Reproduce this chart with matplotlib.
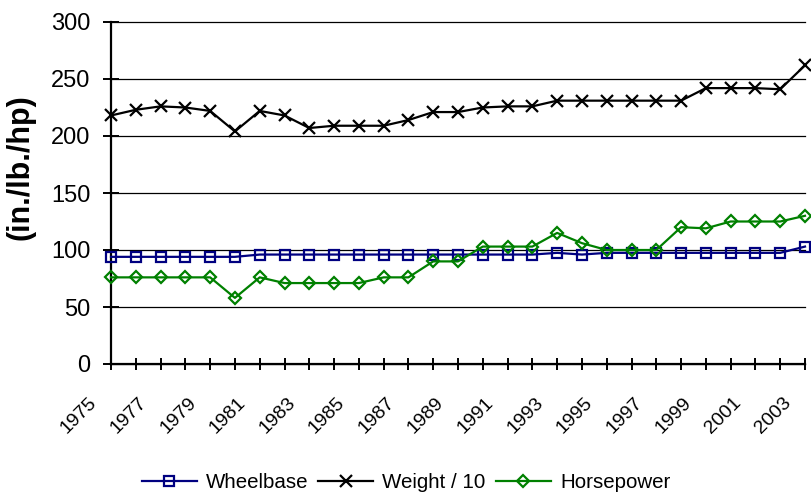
import matplotlib
matplotlib.use("Agg")
import matplotlib.pyplot as plt
import matplotlib.transforms as mtransforms

plt.rcParams['font.family'] = ['Liberation Sans', 'DejaVu Sans']

# data
years = list(range(1975, 2004))
wheelbase = [94, 94, 94, 94, 94, 94,
             96, 96, 96, 96, 96, 96, 96, 96, 96, 96, 96, 96,
             97.5, 96, 97.5, 97.5, 97.5, 97.5, 97.5, 97.5, 97.5, 97.5, 103]
weight = [218, 223, 226, 225, 222, 204, 222, 218, 207, 209, 209, 209, 214, 221, 221,
          225, 226, 226, 231, 231, 231, 231, 231, 231, 242, 242, 242, 241, 262]
horsepower = [76, 76, 76, 76, 76, 58, 76, 71, 71, 71, 71, 76, 76, 90, 90,
              103, 103, 103, 115, 106, 100, 100, 100, 120, 119, 125, 125, 125, 130]
y_ticks = [0, 50, 100, 150, 200, 250, 300]

fig = plt.figure(figsize=(8.12, 4.96), dpi=100)
ax = fig.add_axes([111/812, 1 - 364/496, (805 - 111)/812, (364 - 22)/496])

ax.plot(years, wheelbase, color='#000080', lw=1.6, marker='s', ms=6.5,
        mfc='none', mew=1.6, label='Wheelbase', clip_on=False, zorder=3)
ax.plot(years, weight, color='black', lw=1.6, marker='x', ms=9,
        mew=1.6, label='Weight / 10', clip_on=False, zorder=3)
ax.plot(years, horsepower, color='#008000', lw=1.6, marker='D', ms=6,
        mfc='none', mew=1.6, label='Horsepower', clip_on=False, zorder=4)

ax.set_xlim(years[0], years[-1])
ax.set_ylim(0, 300)
ax.set_yticks(y_ticks)
ax.set_xticks(years)
ax.set_xticklabels([str(y) if (y - 1975) % 2 == 0 else '' for y in years])

ax.spines['top'].set_visible(False)
ax.spines['right'].set_visible(False)
ax.spines['left'].set_linewidth(1.6)
ax.spines['bottom'].set_linewidth(1.6)

ax.yaxis.grid(True, color='black', lw=0.9)
for gl in ax.get_ygridlines():
    gl.set_clip_on(False)
ax.set_axisbelow(True)

ax.tick_params(axis='y', direction='inout', length=12, width=1.4, labelsize=17, pad=9)
ax.tick_params(axis='x', direction='inout', length=8.5, width=1.4, labelsize=14, pad=33)

offset = mtransforms.ScaledTranslation(-0.32, 0, fig.dpi_scale_trans)
for lab in ax.get_xticklabels():
    lab.set_rotation(45)
    lab.set_ha('center')
    lab.set_va('center')
    lab.set_rotation_mode('anchor')
    lab.set_transform(lab.get_transform() + offset)

fig.text(21/812, 1 - 167/496, '(in./lb./hp)', rotation=90, fontsize=22,
         fontweight='bold', ha='center', va='center')

fig.legend(loc='center', bbox_to_anchor=(0.5, 1 - 483/496), ncol=3, frameon=False,
           fontsize=14.8, handlelength=2.67, handletextpad=0.44, columnspacing=0.5)

fig.savefig('out.png', dpi=100)
